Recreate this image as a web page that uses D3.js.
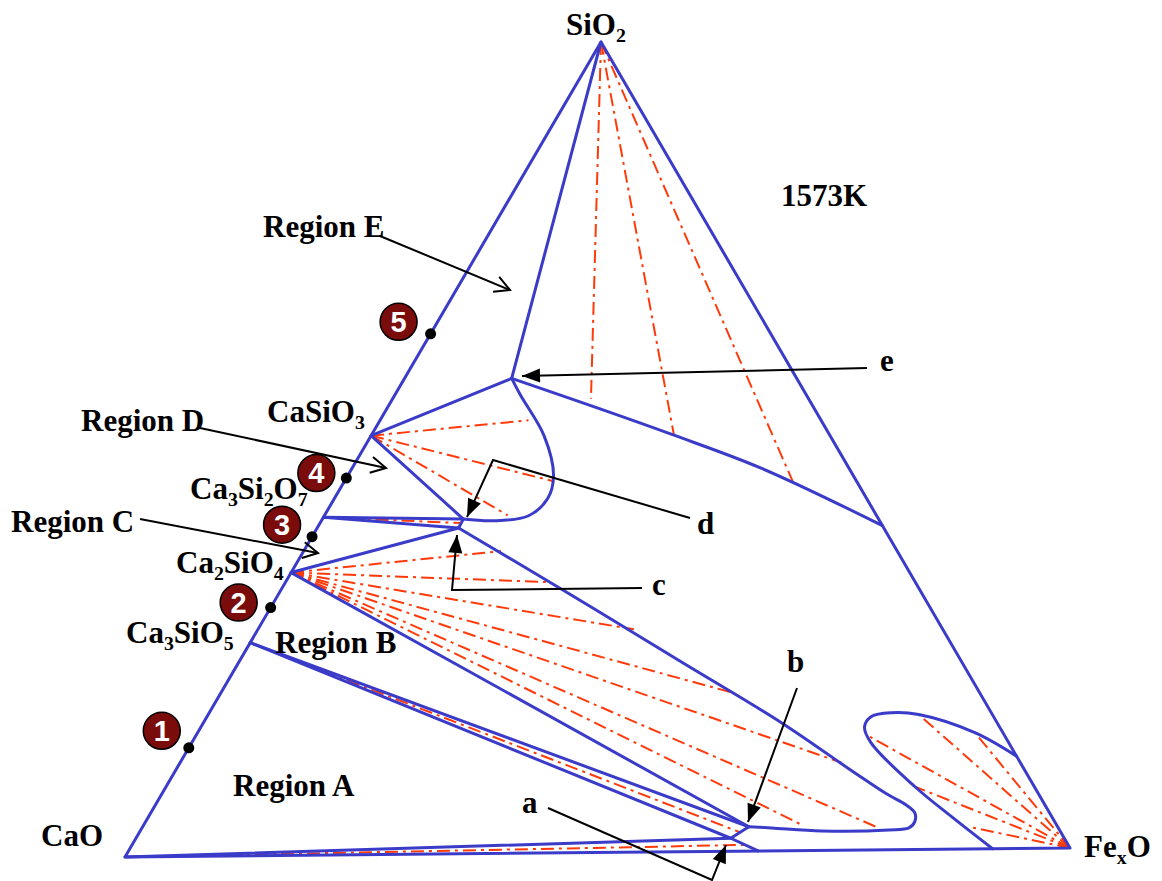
<!DOCTYPE html>
<html>
<head>
<meta charset="utf-8">
<script src="https://cdn.jsdelivr.net/npm/d3@7"></script>
<style>
  html, body { margin: 0; padding: 0; background: #fff; }
  svg { display: block; }
  text { font-family: "Liberation Serif", "Times New Roman", serif; font-weight: bold; fill: #000; }
</style>
</head>
<body>
<svg id="chart" width="1162" height="881"></svg>
<script>
// ---- Data: compositions in mass %, written as [SiO2, FexO]; CaO is the balance ----
const temperature = "1573K";
const cornerNames = ["CaO", "SiO2", "FexO"];
const cornerComps = [[0, 0], [100, 0], [0, 100]];

// Compounds on the CaO–SiO2 join (mass % SiO2)
const compoundNames = ["CaSiO3", "Ca3Si2O7", "Ca2SiO4", "Ca3SiO5"];
const compoundSiO2 = [51.7, 41.7, 34.9, 26.3];

// Invariant liquid compositions a–e and the point where a meets the CaO–FexO side
const pointNames = ["a", "b", "c", "d", "e", "w"];
const pointComps = [[1.6, 63.3], [3.0, 64.5], [40.2, 15.05], [41.3, 15.0], [58.6, 11.4], [0, 67.0]];

// Liquidus curves
const liquidusE = [[58.6, 11.4], [54.7, 22.8], [51.4, 32.2], [47.2, 43.6], [40.0, 60.0]];
const liquidusD = [[58.6, 11.4], [56.5, 13.4], [51.5, 18.4], [46.55, 21.9], [43.7, 22.7],
                   [41.6, 21.7], [41.05, 18.3], [41.3, 15.0]];
const liquidusB = [[40.2, 15.05], [31.8, 31.2], [23.4, 47.1], [15.8, 61.5], [9.54, 72.4],
                   [6.9, 77.1], [5.5, 79.9], [4.52, 81.3], [3.4, 81.85], [2.67, 81.6], [2.44, 79.6],
                   [2.40, 72.5], [2.83, 67.0], [3.0, 64.5]];
const liquidusW = [[0, 91.8], [3.97, 85.5], [7.74, 79.7], [13.2, 72.3], [15.2, 70.6], [16.45, 70.7],
                   [16.9, 72.6], [16.65, 75.6], [14.35, 82.7], [11.4, 88.6]];

// Straight phase boundaries between named compositions
const boundaries = [
  ["CaSiO3", "e"], ["e", "SiO2"], ["CaSiO3", "d"], ["Ca3Si2O7", "d"], ["Ca3Si2O7", "c"], ["d", "c"],
  ["Ca2SiO4", "c"], ["Ca2SiO4", "b"], ["Ca3SiO5", "b"], ["Ca3SiO5", "a"], ["b", "a"],
  ["CaO", "a"], ["a", "w"]
];

// Tie lines: solid phase -> liquid compositions
const tieOrigins = ["SiO2", "CaSiO3", "Ca3Si2O7", "Ca2SiO4", "Ca3SiO5", "CaO", "FexO"];
const tieEnds = [
  [[56.0, 21.1], [51.4, 32.2], [45.0, 48.2]],
  [[53.4, 15.8], [45.9, 22.1], [41.7, 19.5]],
  [[40.8, 15.1]],
  [[37.3, 21.0], [33.4, 28.2], [27.5, 40.0], [19.6, 54.3], [10.8, 70.4], [3.04, 70.3], [2.70, 78.4]],
  [[2.37, 63.8]],
  [[0.76, 65.2]],
  [[16.65, 75.6], [14.35, 82.7], [14.2, 71.3], [7.74, 79.7], [2.72, 88.0]]
];

// Sample compositions on the CaO–SiO2 join (mass % SiO2)
const sampleIds = ["1", "2", "3", "4", "5"];
const sampleSiO2 = [13.4, 30.6, 39.3, 46.5, 64.2];

// Region labels
const regionNames = ["Region A", "Region B", "Region C", "Region D", "Region E"];

// ---- Layout ----
const BLUE = "#3b3bc9", RED = "#ff3a0a", MAROON = "#7a0c0c";
const TIE_DASH = "13,5,3,5";
const FS = 31;
const vertexPx = [[125, 857], [601, 42], [1070, 848]];   // CaO, SiO2, FexO corners

const svg = d3.select("#chart");

// Ternary projection built from a linear fraction scale
const frac = d3.scaleLinear().domain([0, 100]).range([0, 1]);
function project(p) {
  const s = frac(p[0]), f = frac(p[1]);
  const [A, B, C] = vertexPx;
  return [A[0] + s * (B[0] - A[0]) + f * (C[0] - A[0]),
          A[1] + s * (B[1] - A[1]) + f * (C[1] - A[1])];
}

const named = {};
cornerNames.forEach((n, i) => named[n] = cornerComps[i]);
compoundNames.forEach((n, i) => named[n] = [compoundSiO2[i], 0]);
pointNames.forEach((n, i) => named[n] = pointComps[i]);

const straight = d3.line().x(d => project(d)[0]).y(d => project(d)[1]);
const smooth = d3.line().x(d => project(d)[0]).y(d => project(d)[1]).curve(d3.curveCatmullRom.alpha(0.5));

// Tie lines
const gTie = svg.append("g");
tieOrigins.forEach((o, i) => {
  tieEnds[i].forEach(end => {
    gTie.append("path").attr("d", straight([named[o], end]))
      .attr("fill", "none").attr("stroke", RED).attr("stroke-width", 2)
      .attr("stroke-dasharray", TIE_DASH);
  });
});

// Triangle and phase boundaries
const gB = svg.append("g").attr("fill", "none").attr("stroke", BLUE)
  .attr("stroke-width", 3).attr("stroke-linejoin", "round").attr("stroke-linecap", "round");
gB.append("path").attr("d", straight(cornerComps) + "Z");
boundaries.forEach(([p, q]) => gB.append("path").attr("d", straight([named[p], named[q]])));
[liquidusE, liquidusD, liquidusB, liquidusW].forEach(c => gB.append("path").attr("d", smooth(c)));

// Sample points with numbered badges
const badgeOffset = [[-27, -17], [-32, -5], [-30, -12], [-30, -5], [-32, -12]];
sampleSiO2.forEach((s, i) => {
  const [x, y] = project([s, 0]);
  svg.append("circle").attr("cx", x).attr("cy", y).attr("r", 5.5).attr("fill", "#000");
  const bx = x + badgeOffset[i][0], by = y + badgeOffset[i][1];
  svg.append("circle").attr("cx", bx).attr("cy", by).attr("r", 18.5)
    .attr("fill", MAROON).attr("stroke", "#000").attr("stroke-width", 1.5);
  svg.append("text").attr("x", bx).attr("y", by).attr("dy", "0.36em")
    .attr("text-anchor", "middle")
    .style("font-family", "'Liberation Sans', Arial, sans-serif").style("fill", "#fff")
    .attr("font-size", 29).text(sampleIds[i]);
});

// Chemical formulas with subscripts
function formula(str, x, y, size) {
  const t = svg.append("text").attr("x", x).attr("y", y).attr("font-size", size);
  const toks = str.match(/[A-Z][a-z]?|\d+|x/g);
  let sub = false;
  const shift = size * 0.24;
  toks.forEach(tk => {
    const isSub = /^(\d+|x)$/.test(tk);
    const ts = t.append("tspan").text(tk);
    if (isSub) {
      ts.attr("font-size", size * 0.64);
      if (!sub) { ts.attr("dy", shift); sub = true; }
    } else if (sub) { ts.attr("dy", -shift); sub = false; }
  });
}
const formulaPos = {
  "SiO2": [566, 35], "CaO": [41, 846], "FexO": [1084, 857],
  "CaSiO3": [267, 422], "Ca3Si2O7": [190, 499], "Ca2SiO4": [176, 573], "Ca3SiO5": [126, 643]
};
Object.keys(formulaPos).forEach(k => formula(k, formulaPos[k][0], formulaPos[k][1], FS));

svg.append("text").attr("x", 781).attr("y", 206).attr("font-size", FS).text(temperature);

const regionPos = [[233, 796], [275, 653], [11, 532], [81, 431], [263, 237]];
regionNames.forEach((r, i) => svg.append("text").attr("x", regionPos[i][0]).attr("y", regionPos[i][1])
  .attr("font-size", FS).text(r));

const letterPos = [[522, 813], [787, 672], [652, 595], [697, 534], [880, 371]];
pointNames.slice(0, 5).forEach((n, i) => svg.append("text").attr("x", letterPos[i][0])
  .attr("y", letterPos[i][1]).attr("font-size", FS).text(n));

// Leader arrows
function head(from, tip, len, half, filled) {
  const ang = Math.atan2(tip[1] - from[1], tip[0] - from[0]);
  const bx = tip[0] - len * Math.cos(ang), by = tip[1] - len * Math.sin(ang);
  const px = -Math.sin(ang) * half, py = Math.cos(ang) * half;
  const pts = [[bx + px, by + py], tip, [bx - px, by - py]];
  const p = svg.append("path").attr("d", "M" + pts.join("L") + (filled ? "Z" : ""));
  if (filled) p.attr("fill", "#000");
  else p.attr("fill", "none").attr("stroke", "#000").attr("stroke-width", 2);
}
function leader(pts, filled) {
  svg.append("path").attr("d", d3.line()(pts)).attr("fill", "none")
    .attr("stroke", "#000").attr("stroke-width", 2);
  const n = pts.length;
  if (filled) head(pts[n - 2], pts[n - 1], 18, 7, true);
  else head(pts[n - 2], pts[n - 1], 15, 8, false);
}
// region pointers (open heads)
leader([[380, 236], [510, 290]], false);
leader([[200, 428], [386, 468]], false);
leader([[140, 519], [318, 553]], false);
// invariant-point pointers (filled heads)
leader([[867, 368], [522, 376]], true);
leader([[690, 518], [493, 460], [467, 517]], true);
leader([[642, 588], [452, 590], [457, 535]], true);
leader([[797, 688], [748, 822]], true);
leader([[548, 808], [712, 880], [726, 845]], true);
</script>
</body>
</html>
